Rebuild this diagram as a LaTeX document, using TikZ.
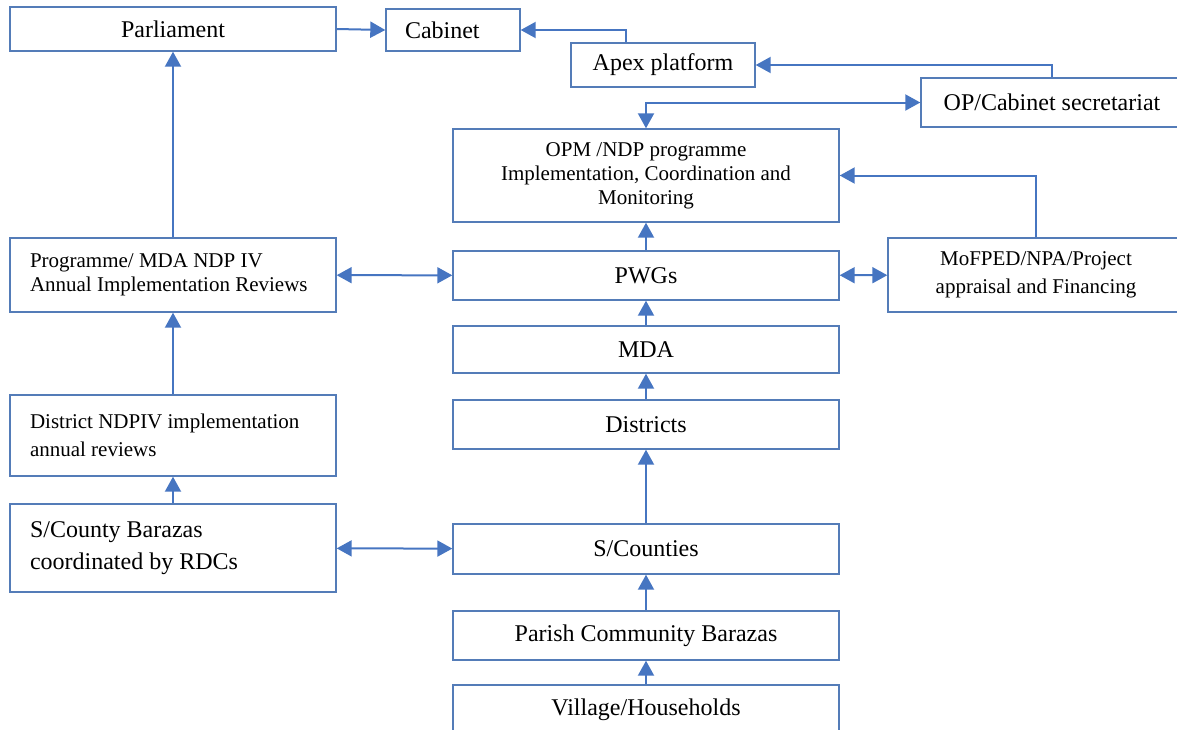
\documentclass[tikz,border=0pt]{standalone}
\usepackage{fontspec}
\setmainfont{Liberation Serif}
\usetikzlibrary{arrows.meta}
\definecolor{boxblue}{RGB}{84,124,184}
\definecolor{lineblue}{RGB}{70,117,193}
\newcommand{\smalltxt}{\fontsize{10.5}{12}\selectfont}

\begin{document}
\begin{tikzpicture}[x=0.5pt, y=-0.5pt,
  every node/.style={draw=boxblue, line width=0.7pt, rectangle, font=\fontsize{12}{16}\selectfont},
  midbox/.style={minimum width=193pt, minimum height=24.5pt},
  leftbox/.style={minimum width=163pt, text width=143pt, inner xsep=10pt, align=flush left},
  arr/.style={draw=lineblue, line width=1pt, -{Triangle[length=7.5pt,width=8pt]}},
  arrboth/.style={draw=lineblue, line width=1pt, {Triangle[length=7.5pt,width=8pt]}-{Triangle[length=7.5pt,width=8pt]}}]
  \useasboundingbox (0,0) rectangle (1177,729);
  \clip (0,0) rectangle (1177,729);
  % top level
  \node[minimum width=163pt, minimum height=22pt] (parl) at (173,29) {Parliament};
  \node[minimum width=67pt, minimum height=21pt, text width=48pt, inner xsep=9.5pt, align=flush left] (cab) at (453,30) {Cabinet};
  \node[minimum width=92pt, minimum height=22pt] (apex) at (663,65) {Apex platform};
  \node[minimum width=131pt, minimum height=24.5pt] (opsec) at (1052,102.5) {OP/Cabinet secretariat};
  % middle column
  \node[midbox, minimum height=46.5pt, align=center, font=\smalltxt] (opm) at (646,175.5)
    {OPM /NDP programme\\Implementation, Coordination and\\Monitoring};
  \node[midbox] (pwg) at (646,275.5) {PWGs};
  \node[midbox, minimum height=23.5pt] (mda) at (646,349.5) {MDA};
  \node[midbox] (dist) at (646,424.5) {Districts};
  \node[midbox, minimum height=25pt] (scount) at (646,549) {S/Counties};
  \node[midbox] (parish) at (646,635.5) {Parish Community Barazas};
  \node[midbox, minimum height=25pt] (vill) at (646,710) {Village/Households};
  % left column
  \node[leftbox, minimum height=37pt, font=\smalltxt] (prog) at (173,275)
    {Programme/ MDA NDP IV\\Annual Implementation Reviews};
  \node[leftbox, minimum height=40.5pt, font=\fontsize{10.5}{14}\selectfont] (drev) at (173,435.5)
    {District NDPIV implementation\\annual reviews};
  \node[leftbox, minimum height=44pt] (baraza) at (173,548)
    {S/County Barazas\\coordinated by RDCs};
  % right column
  \node[minimum width=148pt, minimum height=37pt, align=center, font=\fontsize{10.5}{14}\selectfont] (mof) at (1036,275)
    {MoFPED/NPA/Project\\appraisal and Financing};

  \draw[arr] (parl.east) -- (cab.west);
  \draw[arr] ([xshift=-18.5pt]apex.north) |- (cab.east);
  \draw[arr] (opsec.north) |- (apex.east);
  \draw[arrboth] (opsec.west) -| (opm.north);
  \draw[arr] (mof.north) |- (opm.east);
  \draw[arr] (pwg) -- (opm);
  \draw[arr] (mda) -- (pwg);
  \draw[arr] (dist) -- (mda);
  \draw[arr] (scount) -- (dist);
  \draw[arr] (parish) -- (scount);
  \draw[arr] (vill) -- (parish);
  \draw[arrboth] (prog) -- (pwg);
  \draw[arrboth] (pwg) -- (mof);
  \draw[arr] (prog) -- (parl);
  \draw[arr] (drev) -- (prog);
  \draw[arr] (baraza) -- (drev);
  \draw[arrboth] (baraza) -- (scount);
\end{tikzpicture}
\end{document}
